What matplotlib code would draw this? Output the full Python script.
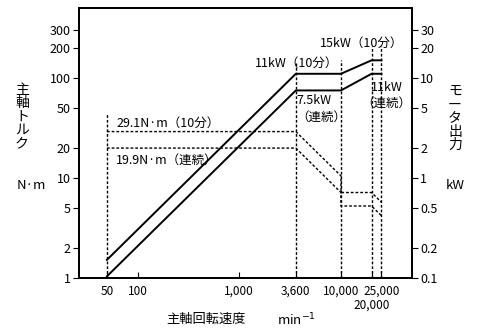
import matplotlib
matplotlib.use("Agg")
import matplotlib.pyplot as plt
from matplotlib.ticker import NullLocator
from matplotlib.transforms import blended_transform_factory

plt.rcParams['font.family'] = ['Noto Sans CJK JP', 'DejaVu Sans']

# power curves (kW, right axis)
speed_pw = [50, 3600, 10000, 20000, 25000]
power_10min = [0.152, 11, 11, 15, 15]
power_cont = [0.104, 7.5, 7.5, 11, 11]

# torque curves (N·m, left axis)
speed_tq = [50, 3600, 10000, 10000, 20000, 25000]
torque_10min = [29.1, 29.1, 10.5, 7.16, 7.16, 5.73]
torque_cont = [19.9, 19.9, 7.16, 5.25, 5.25, 4.2]

# vertical guide lines: speed, top (N·m)
guide_speed = [50, 3600, 10000, 20000, 25000]
guide_top = [45, 140, 150, 210, 210]

xticks = [50, 100, 1000, 3600, 10000, 20000, 25000]
xticklabels = ['50', '100', '1,000', '3,600', '10,000', '', '25,000']
yticks_l = [1, 2, 5, 10, 20, 50, 100, 200, 300]
yticks_r = [0.1, 0.2, 0.5, 1, 2, 5, 10, 20, 30]

fig = plt.figure(figsize=(4.78, 3.33), dpi=100)
ax = fig.add_axes([0.165, 0.165, 0.697, 0.811])
ax.set_xscale('log')
ax.set_yscale('log')
ax.set_xlim(26.5, 50000)
ax.set_ylim(1, 500)

dot = (0, (2, 1.4))
for s, t in zip(guide_speed, guide_top):
    ax.plot([s, s], [1, t], color='black', lw=1, ls=dot)
ax.plot(speed_tq, torque_10min, color='black', lw=1, ls=dot)
ax.plot(speed_tq, torque_cont, color='black', lw=1, ls=dot)

ax2 = ax.twinx()
ax2.set_yscale('log')
ax2.set_ylim(0.1, 50)
ax2.plot(speed_pw, power_10min, color='black', lw=1.4)
ax2.plot(speed_pw, power_cont, color='black', lw=1.4)

for a in (ax, ax2):
    for sp in a.spines.values():
        sp.set_linewidth(1.3)

ax.set_xticks(xticks)
ax.set_xticklabels(xticklabels)
ax.set_yticks(yticks_l)
ax.set_yticklabels([str(v) for v in yticks_l])
ax2.set_yticks(yticks_r)
ax2.set_yticklabels([('%g' % v) for v in yticks_r])
ax.xaxis.set_minor_locator(NullLocator())
ax.yaxis.set_minor_locator(NullLocator())
ax2.yaxis.set_minor_locator(NullLocator())
ax.tick_params(axis='x', direction='in', length=4, labelsize=8.5, pad=5)
ax.tick_params(axis='y', direction='out', length=4, labelsize=9, pad=2)
ax2.tick_params(axis='y', direction='out', length=4, labelsize=9, pad=2)

# second-row tick label for 20,000
trans = blended_transform_factory(ax.transData, ax.transAxes)
ax.text(20000, -0.1, '20,000', transform=trans, fontsize=8.5, ha='center', va='center')

fs = 9
ax.text(62, 35.5, '29.1N·m（10分）', fontsize=fs, ha='left', va='center')
ax.text(62, 15.1, '19.9N·m（連続）', fontsize=fs, ha='left', va='center')
ax2.text(9400, 14.1, '11kW（10分）', fontsize=fs, ha='right', va='center')
ax2.text(3650, 6.0, '7.5kW', fontsize=fs, ha='left', va='center')
ax2.text(3650, 4.07, '（連続）', fontsize=fs, ha='left', va='center')
ax2.text(41000, 22, '15kW（10分）', fontsize=fs, ha='right', va='center')
ax2.text(28000, 8.1, '11kW', fontsize=fs, ha='center', va='center')
ax2.text(28000, 5.6, '（連続）', fontsize=fs, ha='center', va='center')

fig.text(0.046, 0.65, '\n'.join('主軸トルク'), fontsize=10, ha='center', va='center', linespacing=0.95)
fig.text(0.066, 0.444, 'N·m', fontsize=9.5, ha='center', va='center')
fig.text(0.952, 0.645, '\n'.join('モータ出力'), fontsize=10, ha='center', va='center', linespacing=0.95)
fig.text(0.952, 0.444, 'kW', fontsize=9.5, ha='center', va='center')
fig.text(0.43, 0.04, '主軸回転速度', fontsize=9.5, ha='center', va='center')
fig.text(0.62, 0.04, 'min$^{-1}$', fontsize=9.5, ha='center', va='center')

fig.savefig('out.png', dpi=100)
